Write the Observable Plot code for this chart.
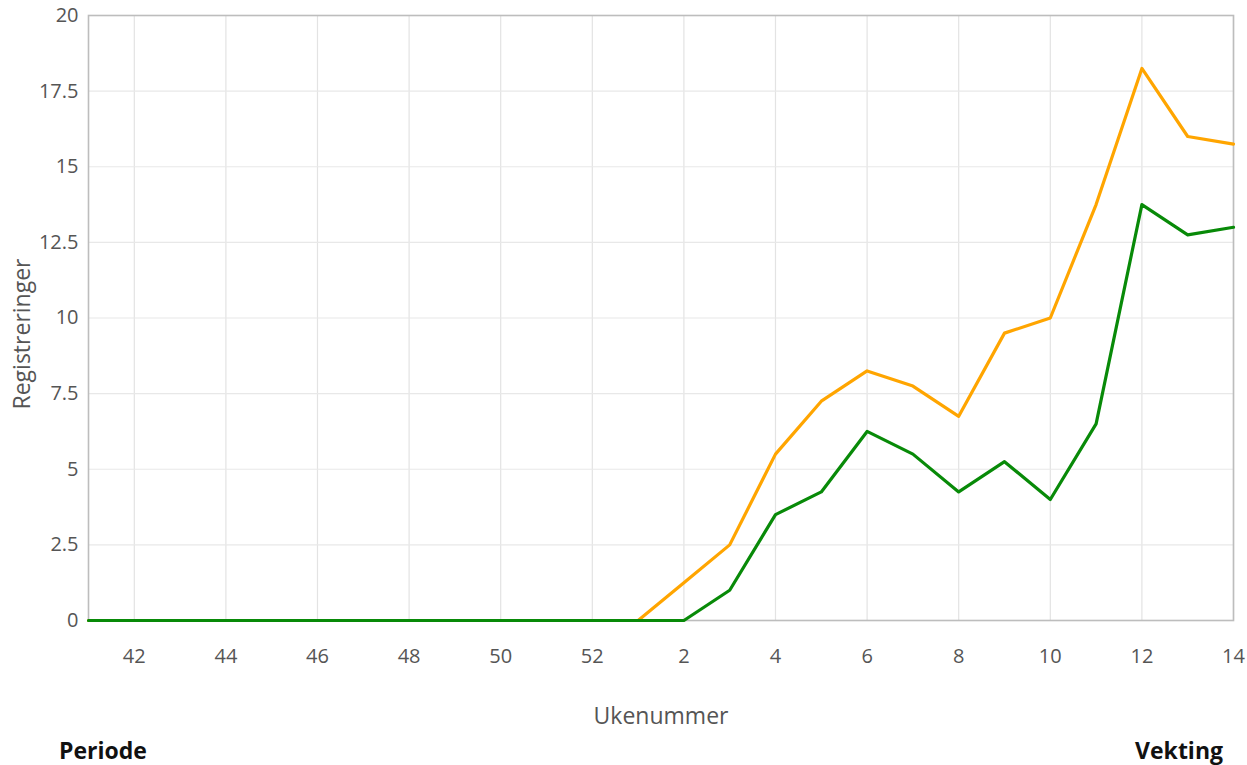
<!DOCTYPE html>
<html>
<head>
<meta charset="utf-8">
<script src="https://cdn.jsdelivr.net/npm/d3@7"></script>
<script src="https://cdn.jsdelivr.net/npm/@observablehq/plot@0.6"></script>
<style>
  body { margin: 0; background: #fff; font-family: "Open Sans", sans-serif; }
  #footer { display: flex; justify-content: space-between; width: 1247px; box-sizing: border-box;
    padding: 0 24px 0 59px; font-weight: bold; font-size: 23px; color: #111; margin-top: 4px; }
  [aria-label="x-axis label"] { font-size: 23px; }
</style>
</head>
<body>
<div id="chart"></div>
<div id="footer"><span>Periode</span><span>Vekting</span></div>
<script>
const weeks = [41,42,43,44,45,46,47,48,49,50,51,52,1,2,3,4,5,6,7,8,9,10,11,12,13,14];
const orangeValues = [0,0,0,0,0,0,0,0,0,0,0,0,0,1.25,2.5,5.5,7.25,8.25,7.75,6.75,9.5,10,13.75,18.25,16,15.75];
const greenValues  = [0,0,0,0,0,0,0,0,0,0,0,0,0,0,1,3.5,4.25,6.25,5.5,4.25,5.25,4,6.5,13.75,12.75,13];
const xTicks = [42,44,46,48,50,52,2,4,6,8,10,12,14];
const yTicks = [0,2.5,5,7.5,10,12.5,15,17.5,20];
const yTitle = ["Registreringer"];

const orangeData = weeks.map((w, i) => ({week: w, value: orangeValues[i]}));
const greenData = weeks.map((w, i) => ({week: w, value: greenValues[i]}));

const chart = Plot.plot({
  width: 1247,
  height: 730,
  marginLeft: 88,
  marginRight: 14,
  marginTop: 15,
  marginBottom: 110,
  style: {fontFamily: "Open Sans", fontSize: "20px", color: "#555", background: "#fff"},
  x: {type: "point", domain: weeks, padding: 0, round: false},
  y: {domain: [0, 20]},
  marks: [
    Plot.gridX(xTicks, {stroke: "#e3e3e3", strokeOpacity: 1, strokeWidth: 1.2}),
    Plot.gridY(yTicks, {stroke: "#e8e8e8", strokeOpacity: 1, strokeWidth: 1.2}),
    Plot.frame({stroke: "#bdbdbd", strokeWidth: 1.6}),
    Plot.axisX(xTicks, {tickSize: 0, tickPadding: 28, label: "Ukenummer", labelAnchor: "center", labelOffset: 103, labelArrow: false, fontSize: 20}),
    Plot.axisY(yTicks, {tickSize: 0, tickPadding: 10, tickFormat: d => String(d), label: null, fontSize: 20}),
    Plot.text(yTitle, {text: d => d, frameAnchor: "left", rotate: -90, dx: -66, dy: 16, textAnchor: "middle", fontSize: 23, fill: "#555"}),
    Plot.lineY(orangeData, {x: "week", y: "value", stroke: "#ffa500", strokeWidth: 3.2}),
    Plot.lineY(greenData, {x: "week", y: "value", stroke: "#088a08", strokeWidth: 3.2})
  ]
});
document.getElementById("chart").appendChild(chart);
</script>
</body>
</html>
